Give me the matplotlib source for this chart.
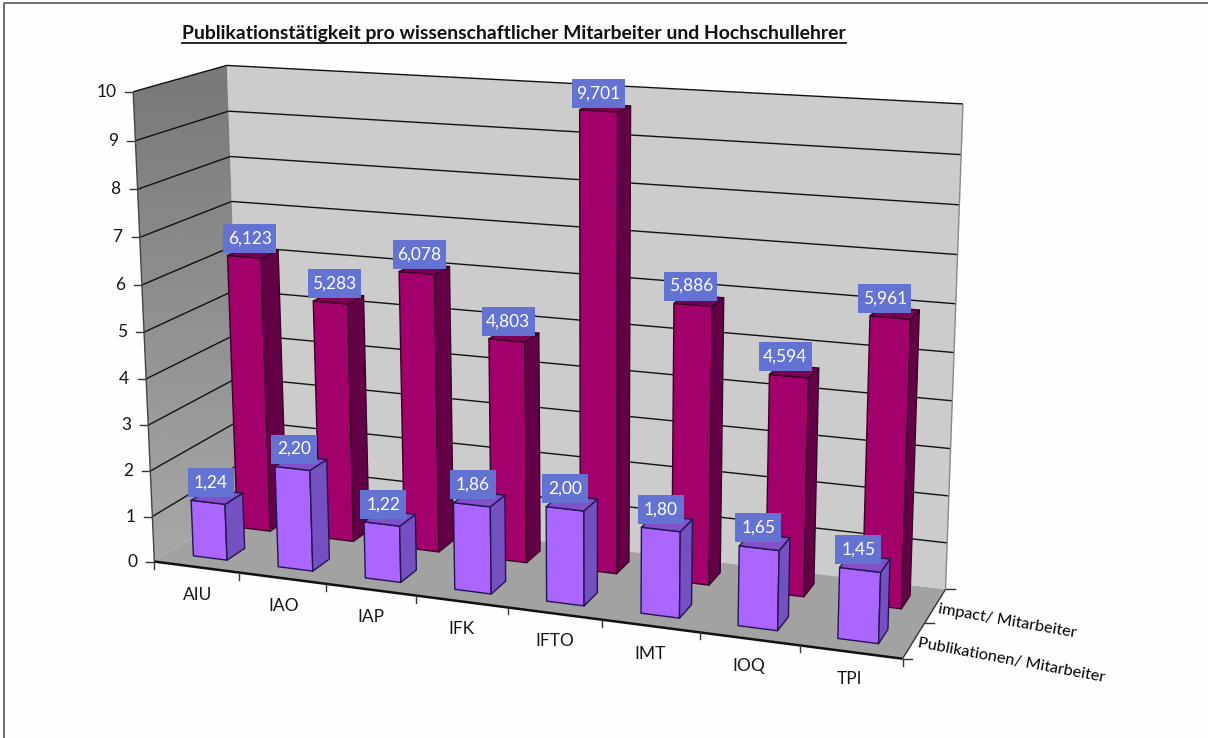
import numpy as np
import matplotlib
matplotlib.use("Agg")
import matplotlib.pyplot as plt
from matplotlib.patches import Polygon, Rectangle

plt.rcParams['font.family'] = ['Lato', 'DejaVu Sans']

# Chart data
categories = ["AIU", "IAO", "IAP", "IFK", "IFTO", "IMT", "IOQ", "TPI"]
impact_per_staff = [6.123, 5.283, 6.078, 4.803, 9.701, 5.886, 4.594, 5.961]
pubs_per_staff = [1.24, 2.20, 1.22, 1.86, 2.00, 1.80, 1.65, 1.45]
series_names = ["Publikationen/ Mitarbeiter", "impact/ Mitarbeiter"]
value_ticks = list(range(0, 11))
title_text = "Publikationstätigkeit pro wissenschaftlicher Mitarbeiter und Hochschullehrer"

W, H = 1208, 738
fig = plt.figure(figsize=(W / 100, H / 100), dpi=100, facecolor="#fefefe")
ax = fig.add_axes([0, 0, 1, 1])
ax.set_xlim(0, W)
ax.set_ylim(H, 0)
ax.axis("off")

# Perspective camera: solved from where the plot box corners land on the canvas.
n_cat, n_row, z_max = len(categories), len(series_names), value_ticks[-1]
view_pairs = [
    ((0, 0, z_max), (133, 91)),
    ((0, n_row, z_max), (227, 66)),
    ((n_cat, n_row, z_max), (963, 104)),
    ((0, 0, 0), (155, 562)),
    ((0, n_row, 0), (242, 505)),
    ((n_cat, n_row, 0), (946, 589)),
    ((n_cat, 0, 0), (902, 659)),
]
rows = []
rhs = []
for (x, y, z), (u, v) in view_pairs:
    rows.append([x, y, z, 1, 0, 0, 0, 0, -u * x, -u * y, -u * z])
    rows.append([0, 0, 0, 0, x, y, z, 1, -v * x, -v * y, -v * z])
    rhs += [u, v]
cam = np.append(np.linalg.lstsq(np.array(rows, float), np.array(rhs, float), rcond=None)[0], 1).reshape(3, 4)


def proj(x, y, z):
    p = cam @ np.array([x, y, z, 1.0])
    return p[:2] / p[2]


def face(pts, color, edge="none", lw=0.0, z=1):
    ax.add_patch(Polygon([proj(*p) for p in pts], closed=True, facecolor=color,
                         edgecolor=edge, linewidth=lw, zorder=z, joinstyle="round"))


def seg(a, b, color="#111111", lw=1.0, z=2):
    pa, pb = proj(*a), proj(*b)
    ax.plot([pa[0], pb[0]], [pa[1], pb[1]], color=color, lw=lw, zorder=z, solid_capstyle="butt")


# Outer frame: only the top and left edges fall inside the canvas
ax.plot([3.5, 3.5, W], [H, 3, 3], color="#707070", lw=1.4, zorder=0)

# Walls and floor
face([(0, n_row, 0), (n_cat, n_row, 0), (n_cat, n_row, z_max), (0, n_row, z_max)], "#cccccc", z=1)
side_poly = Polygon([proj(0, 0, 0), proj(0, n_row, 0), proj(0, n_row, z_max), proj(0, 0, z_max)],
                    closed=True, facecolor="none", edgecolor="none", zorder=1)
ax.add_patch(side_poly)
shade = np.linspace(0.47, 0.66, 256).reshape(-1, 1)
im = ax.imshow(shade, cmap="gray", vmin=0, vmax=1, extent=(120, 250, 570, 60), aspect="auto", zorder=1)
im.set_clip_path(side_poly)
ax.set_xlim(0, W)
ax.set_ylim(H, 0)
face([(0, 0, 0), (n_cat, 0, 0), (n_cat, n_row, 0), (0, n_row, 0)], "#a2a2a2", z=1)

# Gridlines on the two walls
for t in value_ticks:
    if t > 0:
        seg((0, 0, t), (0, n_row, t), lw=1.0)
        seg((0, n_row, t), (n_cat, n_row, t), lw=1.0)
    a = proj(0, 0, t)
    ax.plot([a[0] - 8, a[0]], [a[1], a[1]], color="#333333", lw=1.0, zorder=2)
    ax.text(a[0] - 17, a[1], str(t), ha="right", va="center", fontsize=12.5, color="#151515", zorder=8)
seg((0, 0, 0), (0, 0, z_max), color="#444444", lw=1.0)
seg((n_cat, n_row, 0), (n_cat, n_row, z_max), color="#888888", lw=1.0)

# Base edges with ticks
seg((0, 0, 0), (n_cat, 0, 0), color="#111111", lw=1.8)
seg((n_cat, 0, 0), (n_cat, n_row, 0), color="#333333", lw=1.0)
for i in range(n_cat + 1):
    a = proj(i, 0, 0)
    ax.plot([a[0], a[0]], [a[1], a[1] + 7], color="#333333", lw=1.0, zorder=2)
for r in range(n_row + 1):
    a = proj(n_cat, r, 0)
    ax.plot([a[0], a[0] + 9], [a[1], a[1]], color="#333333", lw=1.0, zorder=2)

# Category names
for i, name in enumerate(categories):
    a = proj(i + 0.5, 0, 0)
    ax.text(a[0] + 1 - 2 * i / 7, a[1] + 27.5, name, ha="center", va="center",
            fontsize=12.5, color="#151515", zorder=8)

# Series names along the depth axis
ax.text(938, 609, series_names[1], rotation=-10, rotation_mode="anchor", ha="left", va="center",
        fontsize=11.7, color="#000000", zorder=8)
ax.text(918, 643, series_names[0], rotation=-10.6, rotation_mode="anchor", ha="left", va="center",
        fontsize=11.7, color="#000000", zorder=8)

# Title with its underline
tt = ax.text(182, 33, title_text, ha="left", va="center", fontsize=13.98, fontweight="bold",
             color="#111111", zorder=8)
fig.canvas.draw()
bb = tt.get_window_extent().transformed(ax.transData.inverted())
ax.plot([bb.x0, bb.x1], [43, 43], color="#111111", lw=1.3, zorder=8)


def bar(i, r, val, front, side, top, edge, z):
    x0, x1, y0, y1 = i + 0.3, i + 0.7, r + 0.3, r + 0.7
    face([(x0, y0, 0), (x1, y0, 0), (x1, y0, val), (x0, y0, val)], front, edge, 1.0, z)
    face([(x1, y0, 0), (x1, y1, 0), (x1, y1, val), (x1, y0, val)], side, edge, 1.0, z)
    face([(x0, y0, val), (x1, y0, val), (x1, y1, val), (x0, y1, val)], top, edge, 1.0, z)


def tag(i, r, val, text, w, dx, dy):
    c = proj(i + 0.5, r + 0.5, val)
    cx, cy = c[0] + dx, c[1] + dy
    ax.add_patch(Rectangle((cx - w / 2, cy - 14.5), w, 29, facecolor="#6472d2", edgecolor="none", zorder=20))
    ax.text(cx, cy, text, ha="center", va="center", fontsize=12.5, color="white", zorder=21)


# Rear row first, then the front row in front of it
for i, v in enumerate(impact_per_staff):
    bar(i, 1, v, "#a2006b", "#640046", "#7c0055", "#3a0028", 3 + i * 0.01)
for i, v in enumerate(pubs_per_staff):
    bar(i, 0, v, "#aa66ff", "#7550c0", "#8250c8", "#221650", 5 + i * 0.01)
for i, v in enumerate(impact_per_staff):
    tag(i, 1, v, f"{v:.3f}".replace(".", ","), 53, -3 - i, -14.5)
for i, v in enumerate(pubs_per_staff):
    tag(i, 0, v, f"{v:.2f}".replace(".", ","), 46, -6.5, -14)

fig.savefig("out.png", dpi=100, facecolor=fig.get_facecolor())
